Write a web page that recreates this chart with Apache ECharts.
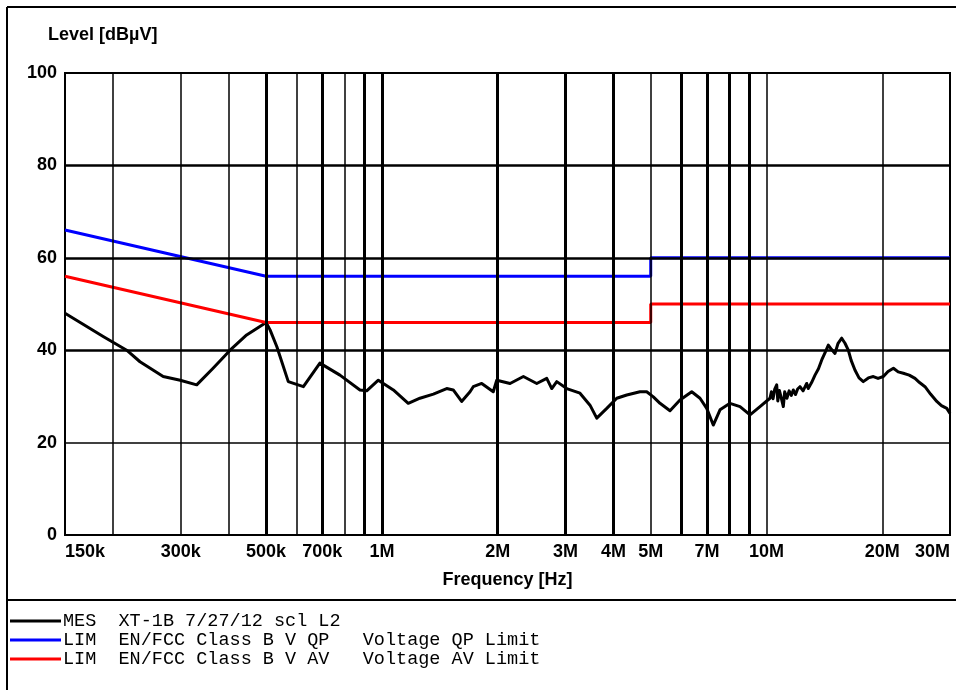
<!DOCTYPE html>
<html>
<head>
<meta charset="utf-8">
<script src="https://cdn.jsdelivr.net/npm/echarts@6/dist/echarts.min.js"></script>
<style>
html,body{margin:0;padding:0;background:#fff;}
#chart{width:956px;height:690px;}
</style>
</head>
<body>
<div id="chart"></div>
<script>
// ---- data (frequency in MHz, level in dBµV) ----
const mesFreq = [0.150,0.189,0.217,0.235,0.270,0.299,0.330,0.364,0.403,0.445,0.500,0.512,0.533,0.571,0.625,0.690,0.778,0.877,0.913,0.979,1.071,1.171,1.256,1.361,1.474,1.533,1.612,1.695,1.728,1.818,1.948,1.989,2.154,2.333,2.527,2.683,2.765,2.849,3.024,3.274,3.476,3.620,3.843,4.080,4.332,4.689,4.881,5.079,5.286,5.612,5.958,6.392,6.716,6.992,7.272,7.571,8.037,8.534,9.060,9.618,10.21,10.30,10.40,10.50,10.63,10.70,10.80,10.90,11.06,11.15,11.30,11.45,11.60,11.74,11.90,12.05,12.22,12.45,12.72,12.84,13.10,13.37,13.65,13.92,14.20,14.48,14.75,15.07,15.35,15.69,16.00,16.32,16.60,16.98,17.40,17.85,18.40,18.96,19.50,20.13,20.70,21.38,22.00,22.69,23.50,24.33,25.00,25.83,26.70,27.72,28.50,29.43,30.0];
const mesLevel = [48.0,42.9,40.0,37.5,34.3,33.5,32.5,36.1,40.0,43.3,46.0,44.4,40.8,33.2,32.1,37.2,34.6,31.4,31.2,33.5,31.4,28.5,29.6,30.5,31.7,31.4,28.9,31.0,32.1,32.8,31.0,33.5,32.8,34.3,32.8,33.9,31.7,33.2,31.7,30.7,28.1,25.3,27.4,29.6,30.3,31.0,31.0,29.9,28.5,26.9,29.2,31.0,29.6,27.4,23.8,27.1,28.5,27.8,26.0,27.8,29.6,31.0,29.5,31.5,32.5,29.0,31.3,30.0,27.8,31.0,29.6,31.2,30.2,31.4,30.4,31.6,32.1,31.2,32.8,31.7,33.0,34.6,36.0,37.9,39.5,41.1,40.2,39.3,41.5,42.6,41.5,40.0,37.8,35.7,34.0,33.2,34.0,34.3,33.9,34.3,35.4,36.1,35.3,35.0,34.6,33.9,33.0,32.1,30.5,28.9,28.0,27.4,26.3];
const qpFreq = [0.15,0.5,5,5,30];
const qpLevel = [66,56,56,60,60];
const avFreq = [0.15,0.5,5,5,30];
const avLevel = [56,46,46,50,50];
const xTickValues = [0.15,0.3,0.5,0.7,1,2,3,4,5,7,10,20,30];
const xTickLabels = ['150k','300k','500k','700k','1M','2M','3M','4M','5M','7M','10M','20M','30M'];
const gridThinX = [0.2,0.3,0.4,0.6,0.8,5,10,20];
const gridThickX = [0.5,0.7,0.9,1,2,3,4,6,7,8,9];
const gridThickY = [40,60,80];
const gridThinY = [20];
const legendRows = [
  {color:'#000000', text:'MES  XT-1B 7/27/12 scl L2'},
  {color:'#0000FF', text:'LIM  EN/FCC Class B V QP   Voltage QP Limit'},
  {color:'#FF0000', text:'LIM  EN/FCC Class B V AV   Voltage AV Limit'}
];

const zip = (a,b) => a.map((v,i) => [v, b[i]]);

const markData = [];
gridThinX.forEach(v => markData.push({xAxis:v, lineStyle:{color:'#000', width:1.5, type:'solid'}}));
gridThickX.forEach(v => markData.push({xAxis:v, lineStyle:{color:'#000', width:3, type:'solid'}}));
gridThinY.forEach(v => markData.push({yAxis:v, lineStyle:{color:'#000', width:1.5, type:'solid'}}));
gridThickY.forEach(v => markData.push({yAxis:v, lineStyle:{color:'#000', width:2.5, type:'solid'}}));

const labelFont = 'Liberation Sans, Arial, sans-serif';

const graphics = [
  {type:'line', shape:{x1:7,y1:7,x2:956,y2:7}, style:{stroke:'#000', lineWidth:2}},
  {type:'line', shape:{x1:7,y1:7,x2:7,y2:690}, style:{stroke:'#000', lineWidth:2}},
  {type:'line', shape:{x1:7,y1:600,x2:956,y2:600}, style:{stroke:'#000', lineWidth:2}},
  {type:'text', left:48, top:26, style:{text:'Level [dBµV]', font:'bold 18px ' + labelFont, fill:'#000'}}
];
legendRows.forEach((r,i) => {
  const y = 621 + i*19;
  graphics.push({type:'line', shape:{x1:10,y1:y,x2:61,y2:y}, style:{stroke:r.color, lineWidth:3}});
  graphics.push({type:'text', x:63, y:y, style:{text:r.text, font:'18.5px Liberation Mono, Courier New, monospace', fill:'#000', verticalAlign:'middle'}});
});

const chart = echarts.init(document.getElementById('chart'), null, {renderer:'canvas'});
chart.setOption({
  animation:false,
  backgroundColor:'#fff',
  grid:{left:65, top:73, right:6, bottom:155, show:true, borderColor:'#000', borderWidth:2, backgroundColor:'transparent'},
  xAxis:{
    type:'log', logBase:10, min:0.15, max:30,
    name:'Frequency [Hz]', nameLocation:'middle', nameGap:36,
    nameTextStyle:{fontFamily:labelFont, fontWeight:'bold', fontSize:18, color:'#000'},
    axisLine:{show:false}, axisTick:{show:false}, splitLine:{show:false}, minorSplitLine:{show:false},
    axisLabel:{
      customValues: xTickValues,
      margin:8, fontFamily:labelFont, fontWeight:'bold', fontSize:18, color:'#000',
      alignMinLabel:'left', alignMaxLabel:'right',
      showMinLabel:true, showMaxLabel:true, hideOverlap:false,
      formatter: function(v){
        for (let i=0;i<xTickValues.length;i++){ if (Math.abs(v/xTickValues[i]-1) < 1e-6) return xTickLabels[i]; }
        return '';
      }
    }
  },
  yAxis:{
    type:'value', min:0, max:100, interval:20,
    axisLine:{show:false}, axisTick:{show:false}, splitLine:{show:false},
    axisLabel:{margin:8, fontFamily:labelFont, fontWeight:'bold', fontSize:18, color:'#000'}
  },
  graphic: graphics,
  series:[
    {type:'line', name:'grid', data:[], z:1, silent:true,
     markLine:{silent:true, symbol:['none','none'], animation:false, label:{show:false}, emphasis:{disabled:true}, data:markData}},
    {type:'line', name:'MES', data:zip(mesFreq, mesLevel), showSymbol:false, z:3, silent:true,
     lineStyle:{color:'#000', width:3, join:'round'}, itemStyle:{color:'#000'}},
    {type:'line', name:'QP', data:zip(qpFreq, qpLevel), showSymbol:false, z:4, silent:true,
     lineStyle:{color:'#0000FF', width:3}, itemStyle:{color:'#0000FF'}},
    {type:'line', name:'AV', data:zip(avFreq, avLevel), showSymbol:false, z:4, silent:true,
     lineStyle:{color:'#FF0000', width:3}, itemStyle:{color:'#FF0000'}}
  ]
});
</script>
</body>
</html>
